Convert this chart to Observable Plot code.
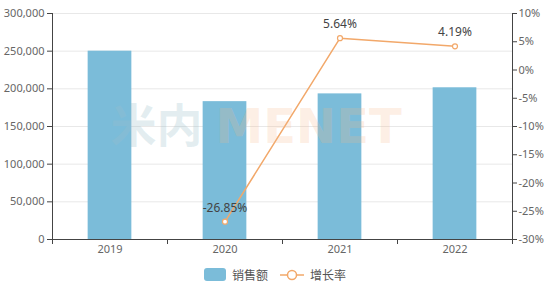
<!DOCTYPE html>
<html>
<head>
<meta charset="utf-8">
<script src="https://cdn.jsdelivr.net/npm/d3@7"></script>
<script src="https://cdn.jsdelivr.net/npm/@observablehq/plot@0.6"></script>
<style>
  body { margin: 0; background: #fff; font-family: "Noto Sans", "Noto Sans CJK SC", sans-serif; }
  #chart svg { display: block; }
  #legend { height: 33px; display: flex; align-items: center; justify-content: center; font-size: 12px; color: #555; font-family: "Noto Sans CJK SC", sans-serif; }
  #legend .item { display: flex; align-items: center; margin: 0 4px; }
  #legend .swatch { width: 22px; height: 13px; border-radius: 3px; background: #7bbcd9; margin-right: 6px; }
  #legend svg { margin-right: 6px; }
</style>
</head>
<body>
<div id="chart"></div>
<div id="legend"></div>
<script>
// Annual sales and year-on-year growth rate
const years = ["2019", "2020", "2021", "2022"];
const sales = [250000, 183000, 193300, 201400];
const growth = [null, -26.85, 5.64, 4.19];
const salesTicks = [0, 50000, 100000, 150000, 200000, 250000, 300000];
const growthTicks = [-30, -25, -20, -15, -10, -5, 0, 5, 10];
const seriesNames = ["销售额", "增长率"];

const barColor = "#7bbcd9";
const lineColor = "#f2a86a";

// The growth rate shares the sales y scale: map [-30%, 10%] onto [0, 300000]
const gMin = -30, gMax = 10, sMax = 300000;
const toY = g => (g - gMin) / (gMax - gMin) * sMax;
const fromY = v => v / sMax * (gMax - gMin) + gMin;

const rows = years.map((year, i) => ({i, year, sales: sales[i], growth: growth[i]}));
const lineRows = rows.filter(d => d.growth != null);
const idx = years.map((_, i) => i);
const bounds = d3.range(-0.5, years.length, 1);

const chart = Plot.plot({
  width: 550,
  height: 258,
  marginTop: 13,
  marginBottom: 19,
  marginLeft: 52,
  marginRight: 38,
  style: {fontFamily: '"Noto Sans", "Noto Sans CJK SC", sans-serif', fontSize: "11px", color: "#666", background: "#fff"},
  x: {type: "linear", domain: [-0.5, years.length - 0.5]},
  y: {domain: [0, sMax]},
  marks: [
    Plot.gridY(salesTicks, {stroke: "#e8e8e8", strokeOpacity: 1}),
    Plot.rectY(rows, {x1: d => d.i - 0.19, x2: d => d.i + 0.19, y: "sales", fill: barColor}),
    Plot.axisY(salesTicks, {anchor: "left", label: null, tickFormat: d3.format(","), tickSize: 5, tickPadding: 3, stroke: "#444", fill: "#666"}),
    Plot.axisY(growthTicks.map(toY), {anchor: "right", label: null, tickFormat: v => Math.round(fromY(v)) + "%", tickSize: 4, tickPadding: 2, stroke: "#444", fill: "#666"}),
    Plot.axisX(idx, {label: null, tickSize: 0, tickPadding: 6, tickFormat: i => years[i], fill: "#666"}),
    Plot.axisX(bounds, {label: null, tickSize: 5, tickFormat: () => "", stroke: "#444"}),
    Plot.ruleX([-0.5, years.length - 0.5], {stroke: "#444"}),
    Plot.ruleY([0], {stroke: "#444"}),
    Plot.line(lineRows, {x: "i", y: d => toY(d.growth), stroke: lineColor, strokeWidth: 1.5}),
    Plot.dot(lineRows, {x: "i", y: d => toY(d.growth), r: 2.5, fill: "#fff", stroke: lineColor, strokeWidth: 1.2}),
    Plot.text(lineRows, {x: "i", y: d => toY(d.growth), text: d => d.growth.toFixed(2) + "%", dy: -14, fill: "#444", fontSize: 12}),
    // faint watermark
    Plot.text(["米内"], {frameAnchor: "middle", text: d => d, textAnchor: "end", dx: -80, dy: 1, fontSize: 46, fontWeight: "bold", fill: "#9cbfcb", fillOpacity: 0.28, fontFamily: "Noto Sans CJK SC"}),
    Plot.text(["MENET"], {frameAnchor: "middle", text: d => d, textAnchor: "start", dx: -67, dy: 1, fontSize: 48, fontWeight: "bold", fill: "#f6b98a", fillOpacity: 0.24, fontFamily: "DejaVu Sans"})
  ]
});
document.getElementById("chart").appendChild(chart);

// Legend below the chart
const legend = document.getElementById("legend");
legend.innerHTML = `
  <div class="item"><div class="swatch"></div><span>${seriesNames[0]}</span></div>
  <div class="item" style="margin-left:8px"><svg width="24" height="12"><line x1="0" y1="6" x2="24" y2="6" stroke="${lineColor}" stroke-width="1.5"/><circle cx="12" cy="6" r="4.5" fill="#fff" stroke="${lineColor}" stroke-width="1.5"/></svg><span>${seriesNames[1]}</span></div>`;
</script>
</body>
</html>
